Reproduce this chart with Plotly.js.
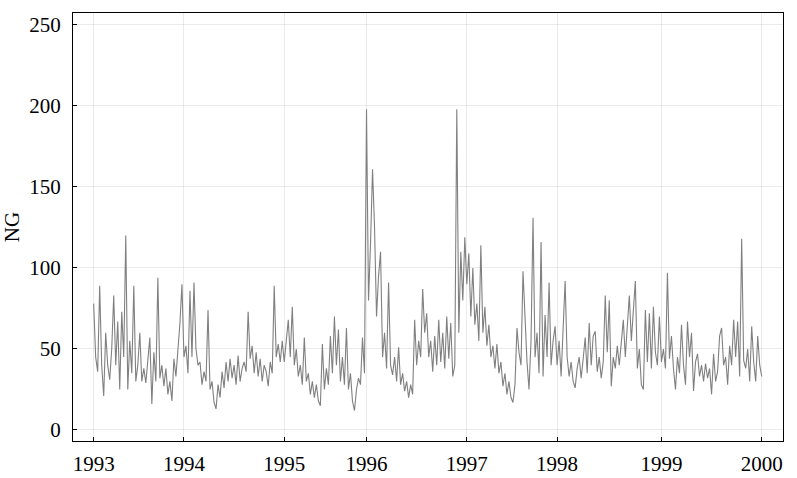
<!DOCTYPE html>
<html>
<head>
<meta charset="utf-8">
<script src="https://cdn.plot.ly/plotly-3.0.1.min.js"></script>
<style>html,body{margin:0;padding:0;background:#fff;}#chart{width:797px;height:478px;}</style>
</head>
<body>
<div id="chart"></div>
<script>
// Tick labels (year starts)
const yearLabels = ['1993', '1994', '1995', '1996', '1997', '1998', '1999', '2000'];

const y1993 = [78,45,36,89,40,21,60,40,31,50,83,40,67,25,73,45,120,25,55,35,89,30,40,60,30,38,29,45,57,16,48,30,94,32,40,27,38,22,30,18,44,33,47,66,90];
const y1994 = [45,52,35,86,45,91,50,40,42,28,36,30,74,25,30,17,13,28,20,36,26,42,30,44,32,40,28,46,30,38,42,36,73,44,52,35,48,33,44,30,40,36,27,42,35,89,45,53,42,55];
const y1995 = [42,55,68,45,76,40,50,33,40,28,57,30,35,22,30,20,28,18,15,53,25,38,28,58,35,70,40,62,30,45,28,63,25,35,18,12,25,32,28,57,35];
const y1996 = [198,80,115,161,125,70,95,110,45,60,38,91,40,34,45,30,51,28,35,24,30,20,28,22,68,40,55,45,87,60,72,45,55,36,58,40,68,42,60,38,70,44,66,33,40,198,60,110,80,119];
const y1997 = [90,109,70,100,65,78,55,114,60,76,52,65,45,52,38,53,35,42,27,35,22,30,20,17,28,63,48,40,98,65,42,25,55,131,45,60,35,116,33,71,45,91,40,55,64];
const y1998 = [40,55,33,60,92,45,33,42,30,26,38,45,32,44,57,35,66,40,58,61,36,45,32,42,83,48,80,27,45,38,52,40,56,68,45,62,83,55,73,92,38,50,28,25,74,42,72,38,76,48,40,70];
const y1999 = [42,50,38,97,44,58,38,25,45,35,65,40,28,67,45,60,24,42,47,33,40,30,41,32,38,22,47,30,36,58,63,40,45,28,52,40,68,45,67,33,118,43,38,50,30,64,42,30,58,40];
const y2000 = [33];

const yTicks = [0, 50, 100, 150, 200, 250];

const byYear = [y1993, y1994, y1995, y1996, y1997, y1998, y1999, y2000];
const xs = [], ys = [], yearStarts = [];
byYear.forEach(function (arr) {
  yearStarts.push(xs.length);
  arr.forEach(function (v) { xs.push(xs.length); ys.push(v); });
});

const fontFam = 'Liberation Serif, Times New Roman, serif';
const axisCommon = {
  showline: true, linecolor: '#000', linewidth: 1, mirror: true,
  ticks: 'inside', ticklen: 4, tickwidth: 1, tickcolor: '#000',
  showgrid: true, gridcolor: 'rgba(0,0,0,0.08)', gridwidth: 1,
  zeroline: false,
  tickfont: {family: fontFam, size: 21, color: '#000'}
};

const trace = {
  x: xs, y: ys, type: 'scatter', mode: 'lines',
  line: {color: 'rgb(128,128,128)', width: 1.1},
  hoverinfo: 'skip', showlegend: false
};

const layout = Object.assign({
  width: 797, height: 478,
  margin: {l: 73, r: 14, t: 13, b: 37, pad: 0},
  paper_bgcolor: '#fff', plot_bgcolor: '#fff',
  showlegend: false,
  xaxis: Object.assign({}, axisCommon, {
    range: [-10.3, 343.6],
    tickmode: 'array', tickvals: yearStarts, ticktext: yearLabels,
    ticklabelstandoff: 4
  }),
  yaxis: Object.assign({}, axisCommon, {
    range: [-6.8, 257.4],
    tickmode: 'array', tickvals: yTicks, ticktext: yTicks.map(String),
    ticklabelstandoff: 7,
    title: {text: 'NG', font: {family: fontFam, size: 21, color: '#000'}, standoff: 6}
  })
});

Plotly.newPlot('chart', [trace], layout, {staticPlot: true, displayModeBar: false});
</script>
</body>
</html>
